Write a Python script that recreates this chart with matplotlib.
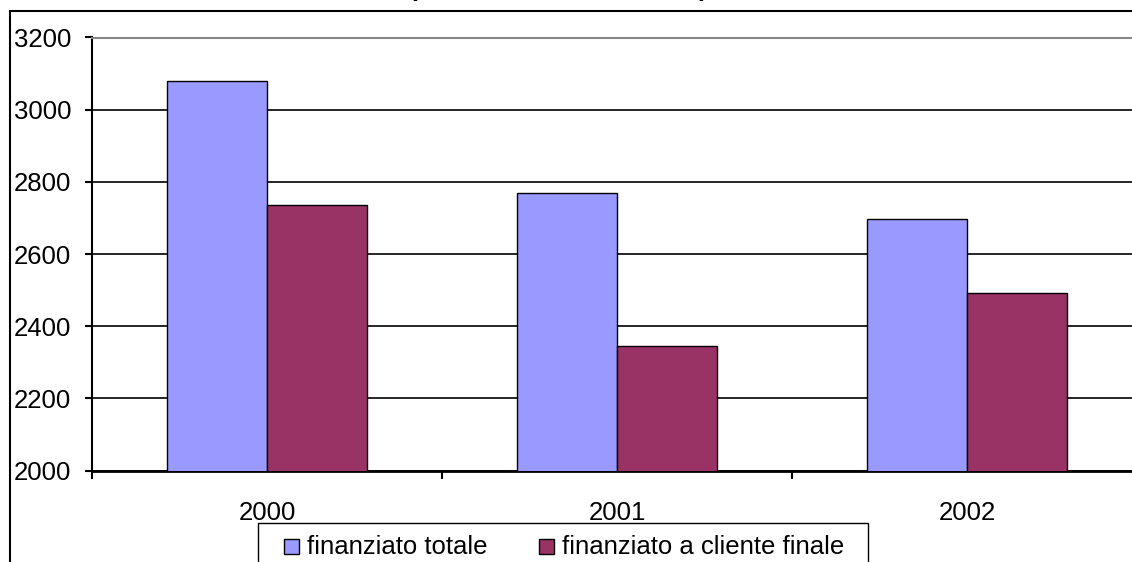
import numpy as np
import matplotlib
matplotlib.use("Agg")
import matplotlib.pyplot as plt
from matplotlib.patches import Rectangle

years = ["2000", "2001", "2002"]
totale = [3080, 2768, 2697]
cliente_finale = [2735, 2346, 2492]
series_names = ["finanziato totale", "finanziato a cliente finale"]
yticks = [2000, 2200, 2400, 2600, 2800, 3000, 3200]

plt.rcParams['font.family'] = ['Liberation Sans', 'DejaVu Sans']
FS = 18.5
W, H = 1132, 562

def px(x, y):
    # pixel position (from top-left) -> figure fraction
    return x / W, 1 - y / H

fig = plt.figure(figsize=(W / 100, H / 100), dpi=100)
fig.set_facecolor("white")

# outer chart frame, runs off the right and bottom edges
fx, fy = px(9.5, 11)
fig.patches.append(Rectangle((fx, -0.1), 1.2, fy + 0.1, transform=fig.transFigure,
                             fill=False, edgecolor="black", linewidth=1.5, zorder=0))

# chart title sits mostly above the top edge
tx, ty = px(558, -3.8)
fig.text(tx, ty, "(valori in milioni di euro)", ha="center", va="baseline",
         fontsize=FS, fontweight="bold")

left, top = px(92, 37.5)
_, bottom = px(92, 470.7)
ax = fig.add_axes([left, bottom, 1050 / W, top - bottom])

x = np.arange(len(years))
w = 100 / 350
ax.bar(x - w / 2, totale, w, color="#9999FF", edgecolor="black", linewidth=1.0, zorder=3)
ax.bar(x + w / 2, cliente_finale, w, color="#993366", edgecolor="black", linewidth=1.0, zorder=3)

ax.set_xlim(-0.5, len(years) - 0.5)
ax.set_ylim(yticks[0], yticks[-1])
ax.set_yticks(yticks)
ax.set_yticklabels([str(v) for v in yticks])
ax.yaxis.grid(True, color="black", linewidth=1.2)
ax.set_axisbelow(True)

ax.set_xticks(np.arange(len(years) + 1) - 0.5)
ax.set_xticklabels([])
ax.set_xticks(x, minor=True)
ax.set_xticklabels(years, minor=True)
ax.tick_params(axis="x", which="major", direction="out", length=6, width=1.5, color="black")
ax.tick_params(axis="x", which="minor", length=0, pad=22, labelsize=FS)
ax.tick_params(axis="y", direction="out", length=5, width=1.5, pad=10, labelsize=FS)

ax.spines["right"].set_visible(False)
ax.spines["top"].set_color("#888888")
ax.spines["top"].set_linewidth(1.5)
ax.spines["left"].set_linewidth(1.5)
ax.spines["bottom"].set_linewidth(2.0)

# legend box, bottom part falls outside the figure
lx, ly = px(258, 523)
fig.patches.append(Rectangle((lx, -0.1), (868 - 258) / W, ly + 0.1, transform=fig.transFigure,
                             fill=False, edgecolor="black", linewidth=1.0))
for name, col, sx, txx in [(series_names[0], "#9999FF", 284, 307),
                           (series_names[1], "#993366", 539, 562)]:
    rx, ry = px(sx, 554)
    fig.patches.append(Rectangle((rx, ry), 15 / W, 15 / H, transform=fig.transFigure,
                                 facecolor=col, edgecolor="black", linewidth=1.0))
    tx, ty = px(txx, 547)
    fig.text(tx, ty, name, ha="left", va="center", fontsize=FS)

fig.savefig("out.png", dpi=100)
